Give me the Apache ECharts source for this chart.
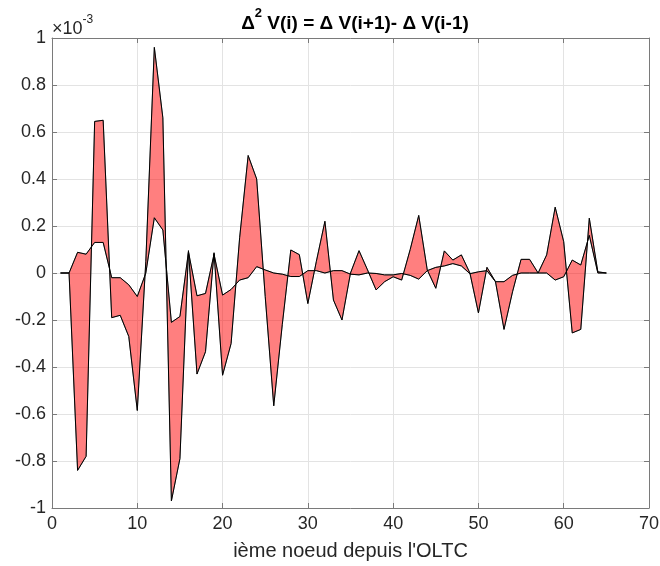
<!DOCTYPE html>
<html>
<head>
<meta charset="utf-8">
<script src="https://cdn.jsdelivr.net/npm/echarts@6/dist/echarts.min.js"></script>
<style>html,body{margin:0;padding:0;background:#fff;}#c{width:660px;height:566px;}</style>
</head>
<body>
<div id="c"></div>
<script>
// node index (ième noeud depuis l'OLTC)
const nodes = [1,2,3,4,5,6,7,8,9,10,11,12,13,14,15,16,17,18,19,20,21,22,23,24,25,26,27,28,29,30,31,32,33,34,35,36,37,38,39,40,41,42,43,44,45,46,47,48,49,50,51,52,53,54,55,56,57,58,59,60,61,62,63,64,65];
// Δ² V(i), in units of 1e-3 (large oscillating curve)
const d2V = [0,0,-0.84,-0.78,0.645,0.65,-0.19,-0.18,-0.27,-0.585,0.05,0.96,0.66,-0.97,-0.79,0.095,-0.43,-0.335,0.086,-0.435,-0.3,0.15,0.5,0.4,-0.1,-0.565,-0.22,0.098,0.078,-0.13,0.05,0.22,-0.115,-0.2,0,0.095,0.013,-0.072,-0.037,-0.016,-0.03,0.1,0.245,0.013,-0.065,0.094,0.055,0.077,0,-0.17,0.024,-0.037,-0.24,-0.08,0.058,0.058,0,0.077,0.28,0.133,-0.255,-0.24,0.233,0.005,0];
// reference curve, in units of 1e-3 (small curve)
const refV = [0,0,0.088,0.08,0.13,0.13,-0.02,-0.02,-0.05,-0.1,0,0.235,0.183,-0.21,-0.185,0.09,-0.097,-0.087,0.08,-0.094,-0.07,-0.03,-0.02,0.027,0.013,0,-0.005,-0.015,-0.015,0.01,0.01,0,0.01,0.01,-0.005,-0.008,0,-0.002,-0.008,-0.008,-0.002,-0.01,-0.026,0.01,0.024,0.03,0.04,0.03,-0.003,0.005,0.01,-0.037,-0.037,-0.01,0,0,0,0,-0.03,-0.016,0.055,0.034,0.16,0,0];

const FONT = '"Liberation Sans", Arial, Helvetica, sans-serif';
const TXT = '#262626';
const AX = '#7a7a7a';

const chart = echarts.init(document.getElementById('c'), null, {renderer: 'canvas'});

const lineA = nodes.map((x, i) => [x, d2V[i]]);
const lineB = nodes.map((x, i) => [x, refV[i]]);

function axisCommon(extra) {
  return Object.assign({
    type: 'value',
    axisLine: {show: true, onZero: false, lineStyle: {color: AX, width: 1}},
    axisTick: {show: true, inside: true, length: 5, lineStyle: {color: AX}},
    splitLine: {show: false},
    axisLabel: {show: false}
  }, extra);
}

const option = {
  animation: false,
  backgroundColor: '#fff',
  title: {
    text: '{n|Δ}{s|2}{n| V(i) = Δ V(i+1)- Δ V(i-1)}',
    left: 350, top: 2, textAlign: 'center',
    textStyle: {
      rich: {
        n: {fontSize: 19, fontWeight: 'bold', fontFamily: FONT, color: '#000', lineHeight: 26, verticalAlign: 'bottom'},
        s: {fontSize: 13, fontWeight: 'bold', fontFamily: FONT, color: '#000', lineHeight: 26, verticalAlign: 'top'}
      }
    }
  },
  graphic: [{
    type: 'text', left: 52, top: 14,
    style: {
      text: '{a|×10}{b|-3}',
      rich: {
        a: {fontSize: 18, fontFamily: FONT, fill: TXT, lineHeight: 24, verticalAlign: 'bottom'},
        b: {fontSize: 12, fontFamily: FONT, fill: TXT, lineHeight: 24, verticalAlign: 'top'}
      }
    }
  }],
  grid: {left: 52, right: 11, top: 38, bottom: 58, containLabel: false, outerBoundsMode: 'none'},
  xAxis: [
    axisCommon({
      min: 0, max: 70, interval: 10, position: 'bottom',
      axisLabel: {show: true, fontSize: 18, color: TXT, fontFamily: FONT, margin: 7},
      splitLine: {show: true, lineStyle: {color: '#e3e3e3', width: 1}},
      name: "ième noeud depuis l'OLTC", nameLocation: 'middle', nameGap: 33,
      nameTextStyle: {fontSize: 20, color: TXT, fontFamily: FONT}
    }),
    axisCommon({min: 0, max: 70, interval: 10, position: 'top'})
  ],
  yAxis: [
    axisCommon({
      min: -1, max: 1, interval: 0.2, position: 'left',
      axisLabel: {show: true, fontSize: 18, color: TXT, fontFamily: FONT, margin: 6,
        formatter: v => String(Math.round(v * 10) / 10)},
      splitLine: {show: true, lineStyle: {color: '#e3e3e3', width: 1}}
    }),
    axisCommon({min: -1, max: 1, interval: 0.2, position: 'right'})
  ],
  series: [
    {
      type: 'custom', coordinateSystem: 'cartesian2d', xAxisIndex: 0, yAxisIndex: 0,
      silent: true, z: 2,
      data: [[nodes[0], d2V[0]]],
      renderItem: function (params, api) {
        const pts = [];
        for (let i = 0; i < nodes.length; i++) pts.push(api.coord([nodes[i], d2V[i]]));
        for (let i = nodes.length - 1; i >= 0; i--) pts.push(api.coord([nodes[i], refV[i]]));
        return {
          type: 'polygon',
          shape: {points: pts},
          style: {fill: 'rgba(255,0,0,0.5)', stroke: '#555', lineWidth: 0.7}
        };
      }
    },
    {
      type: 'line', data: lineA, xAxisIndex: 0, yAxisIndex: 0, z: 3,
      symbol: 'none', lineStyle: {color: '#000', width: 1}, silent: true
    },
    {
      type: 'line', data: lineB, xAxisIndex: 0, yAxisIndex: 0, z: 3,
      symbol: 'none', lineStyle: {color: '#000', width: 1}, silent: true
    }
  ]
};
chart.setOption(option);
</script>
</body>
</html>
